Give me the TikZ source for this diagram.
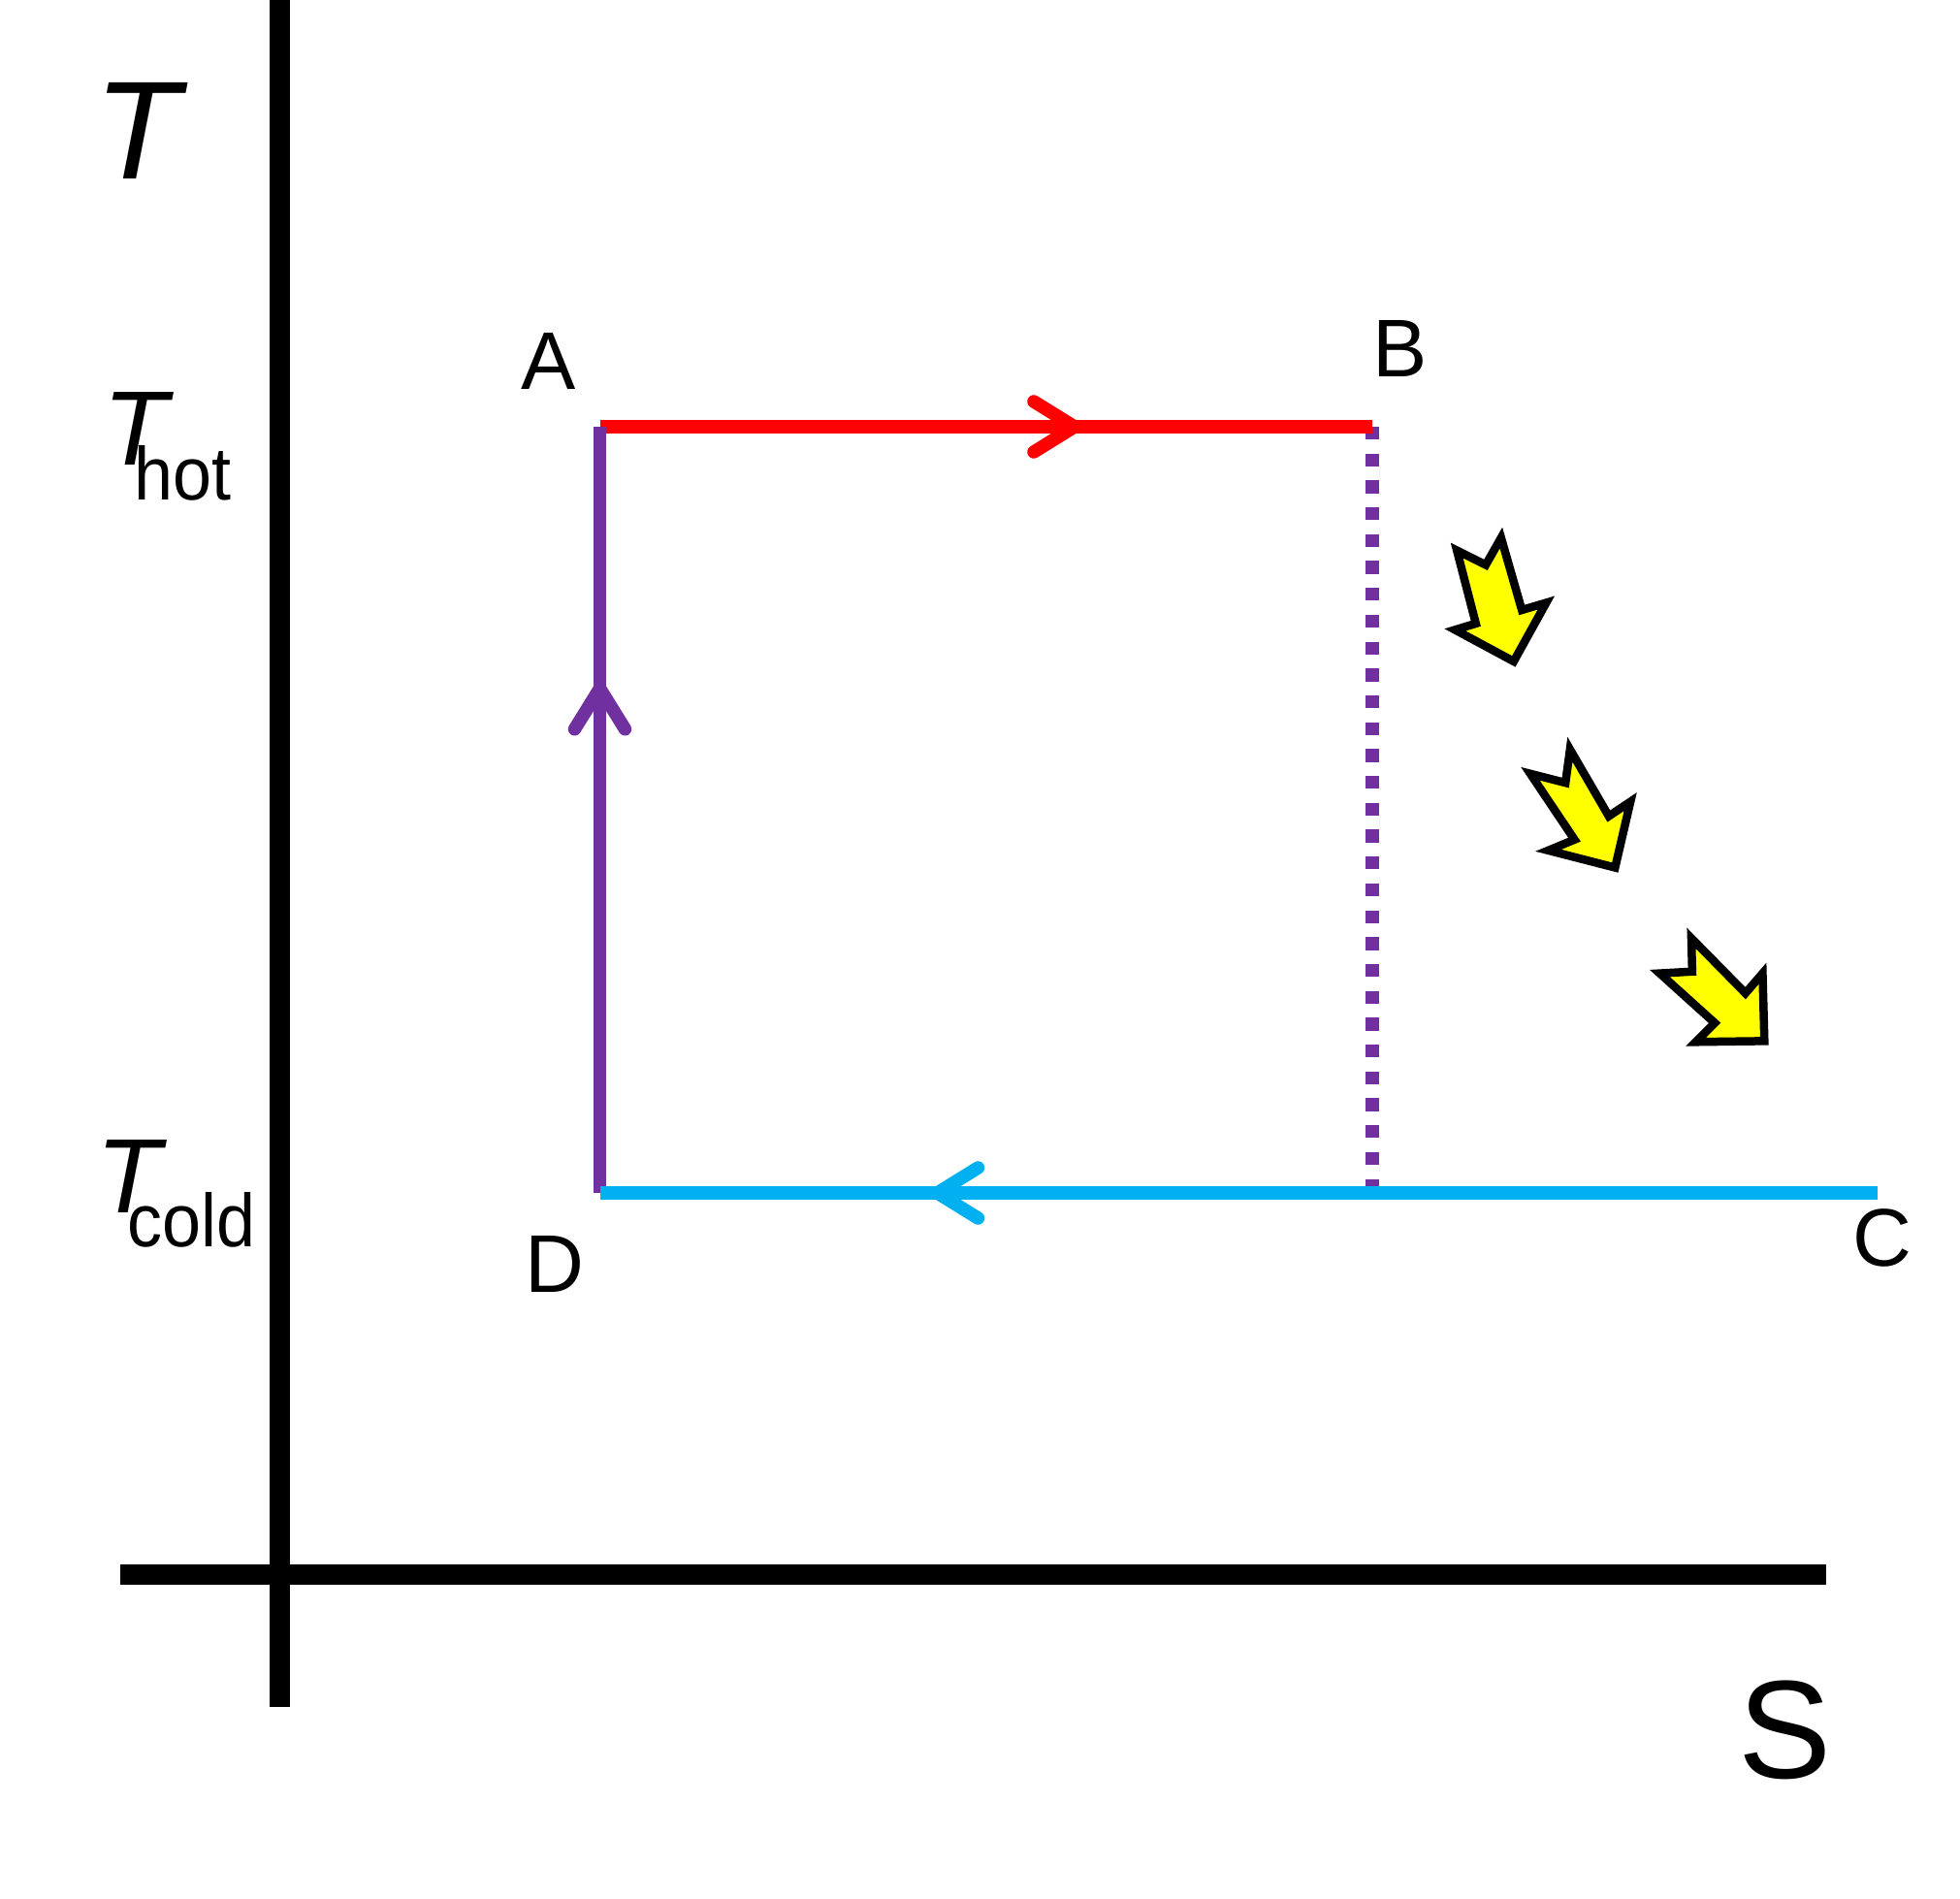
\documentclass[tikz,border=0pt]{standalone}
\usepackage{fontspec}
\setmainfont{Liberation Sans}
\usetikzlibrary{arrows.meta,decorations.markings}
\definecolor{cyRed}{RGB}{255,0,0}
\definecolor{cyPurple}{RGB}{112,48,160}
\definecolor{cyBlue}{RGB}{0,176,240}
\definecolor{heatYellow}{RGB}{255,255,0}
\newcommand{\ptsize}[1]{\fontsize{#1}{#1}\selectfont}
\newcommand{\tsub}[1]{\textit{T}\kern-0.38em\raisebox{-0.33em}{\scalebox{0.93}[1]{\ptsize{22}#1}}}

\begin{document}
\begin{tikzpicture}[
  axis/.style={line width=0.21cm},
  leg/.style={line width=0.135cm},
  midtip/.style={postaction={decorate}, decoration={markings,
    mark=at position #1 with {\arrow{Straight Barb[round, length=0.42cm, width=0.52cm]}}}},
  heat/.style={draw=black, fill=heatYellow, line width=0.085cm, line join=miter},
  ptlabel/.style={font=\ptsize{24}, inner sep=0pt}
]
\useasboundingbox (0,0) rectangle (20.21,-19.58);
% axes
\coordinate (ytop) at (2.88,0);
\coordinate (ybot) at (2.88,-17.6);
\coordinate (xleft) at (1.24,-16.23);
\coordinate (xright) at (18.83,-16.23);
\draw[axis] (ytop) -- (ybot);
\draw[axis] (xleft) -- (xright);
\node[font=\ptsize{41}, inner sep=0pt] (lT) at (1.46,-1.35) {\textit{T}};
\node[font=\ptsize{41}, inner sep=0pt] (lS) at (18.41,-17.84) {S};
\node[font=\ptsize{31}, inner sep=0pt, anchor=base west] (thot) at (1.06,-4.795) {\tsub{hot}};
\node[font=\ptsize{31}, inner sep=0pt, anchor=base west] (tcold) at (0.99,-12.50) {\tsub{cold}};
% cycle corners
\coordinate (A) at (6.185,-4.40);
\coordinate (B) at (14.15,-4.40);
\coordinate (C) at (19.36,-12.30);
\coordinate (D) at (6.185,-12.30);
\node[ptlabel] (la) at (5.66,-3.72) {A};
\node[ptlabel] (lb) at (14.44,-3.59) {B};
\node[ptlabel] (lc) at (19.41,-12.76) {C};
\node[ptlabel] (ld) at (5.72,-13.03) {D};
\draw[leg, cyPurple, dash pattern=on 0.133cm off 0.144cm] (B) -- (B |- D);
\draw[leg, cyRed, midtip=0.623] (A) -- (B);
\draw[leg, cyPurple, midtip=0.667] (D) -- (A);
\draw[leg, cyBlue, midtip=0.741] (C) -- (D);
% heat flowing out
\draw[heat, scale around={0.93:(15.45,-6.15)}] (14.99,-5.64) -- (15.31,-5.80) -- (15.48,-5.50) -- (15.71,-6.30) -- (15.98,-6.22) -- (15.62,-6.87) -- (14.97,-6.52) -- (15.20,-6.45) -- cycle;
\draw[heat, scale around={0.93:(16.30,-8.35)}] (15.74,-7.95) -- (16.13,-8.05) -- (16.18,-7.68) -- (16.61,-8.42) -- (16.85,-8.26) -- (16.68,-8.99) -- (15.94,-8.80) -- (16.23,-8.68) -- cycle;
\draw[heat, scale around={0.93:(17.70,-10.25)}] (17.07,-10.02) -- (17.43,-10.00) -- (17.42,-9.63) -- (18.02,-10.24) -- (18.21,-10.02) -- (18.23,-10.77) -- (17.47,-10.78) -- (17.68,-10.57) -- cycle;
\end{tikzpicture}
\end{document}
